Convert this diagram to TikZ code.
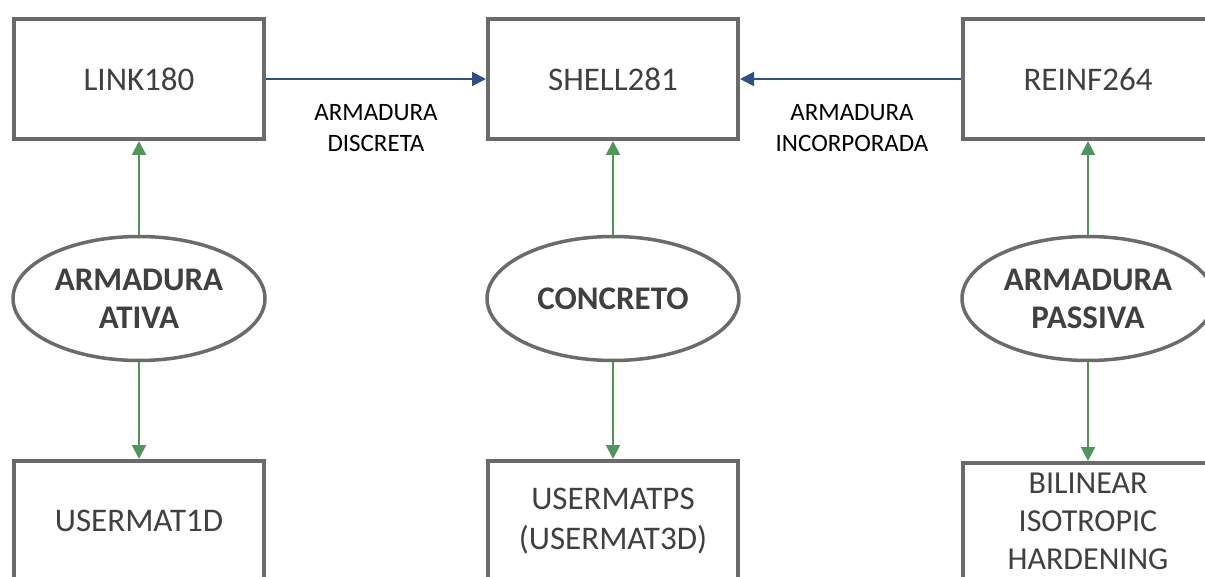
\documentclass[tikz,border=0pt]{standalone}
\usepackage{fontspec}
\setmainfont{Carlito}
\usetikzlibrary{arrows.meta,shapes.geometric}
\definecolor{frame}{HTML}{6B6B6B}
\definecolor{ink}{HTML}{404040}
\definecolor{linkgreen}{HTML}{50965A}
\definecolor{linkblue}{HTML}{2F4F82}
\begin{document}
\begin{tikzpicture}[x=1pt,y=-1pt,
  elembox/.style={draw=frame,line width=4pt,fill=white,rectangle,
    minimum width=250pt,minimum height=120pt,inner sep=0pt,align=center,
    text=ink,font=\fontsize{33}{40}\selectfont},
  matbox/.style={elembox},
  matellipse/.style={draw=frame,line width=3.5pt,fill=white,ellipse,
    minimum width=252pt,minimum height=124pt,inner sep=0pt,align=center,
    text=ink,font=\bfseries\fontsize{33}{38}\selectfont},
  greenarrow/.style={draw=linkgreen,line width=2pt,-{Triangle[length=14pt,width=14pt]}},
  bluearrow/.style={draw=linkblue,line width=2pt,-{Triangle[length=14pt,width=14pt]}},
  edgelabel/.style={align=center,text=black,font=\fontsize{25}{31}\selectfont}]
\useasboundingbox (0,0) rectangle (1205,577);
\begin{scope}
\clip (0,0) rectangle (1205,577);
% element types
\node[elembox] (link) at (139,79) {LINK180};
\node[elembox] (shell) at (613,79) {SHELL281};
\node[elembox] (reinf) at (1088,79) {REINF264};
% materials
\node[matellipse] (ativa) at (139,298.5) {ARMADURA\\ATIVA};
\node[matellipse] (concreto) at (613,298.5) {CONCRETO};
\node[matellipse] (passiva) at (1088,298.5) {ARMADURA\\PASSIVA};
% constitutive models
\node[matbox] (um1d) at (139,521) {USERMAT1D};
\node[matbox] (umps) at (613,521) {USERMATPS\\(USERMAT3D)};
\node[matbox,minimum height=116pt,font=\fontsize{32}{38}\selectfont] (biso) at (1088,521) {BILINEAR\\ISOTROPIC\\HARDENING};
% connections
\draw[greenarrow] (ativa) -- (link);
\draw[greenarrow] (ativa) -- (um1d);
\draw[greenarrow] (concreto) -- (shell);
\draw[greenarrow] (concreto) -- (umps);
\draw[greenarrow] (passiva) -- (reinf);
\draw[greenarrow] (passiva) -- (biso);
\draw[bluearrow] (link) -- (shell);
\draw[bluearrow] (reinf) -- (shell);
\node[edgelabel] (discreta) at (376,128) {ARMADURA\\DISCRETA};
\node[edgelabel] (incorp) at (852,128) {ARMADURA\\INCORPORADA};
\end{scope}
\end{tikzpicture}
\end{document}
